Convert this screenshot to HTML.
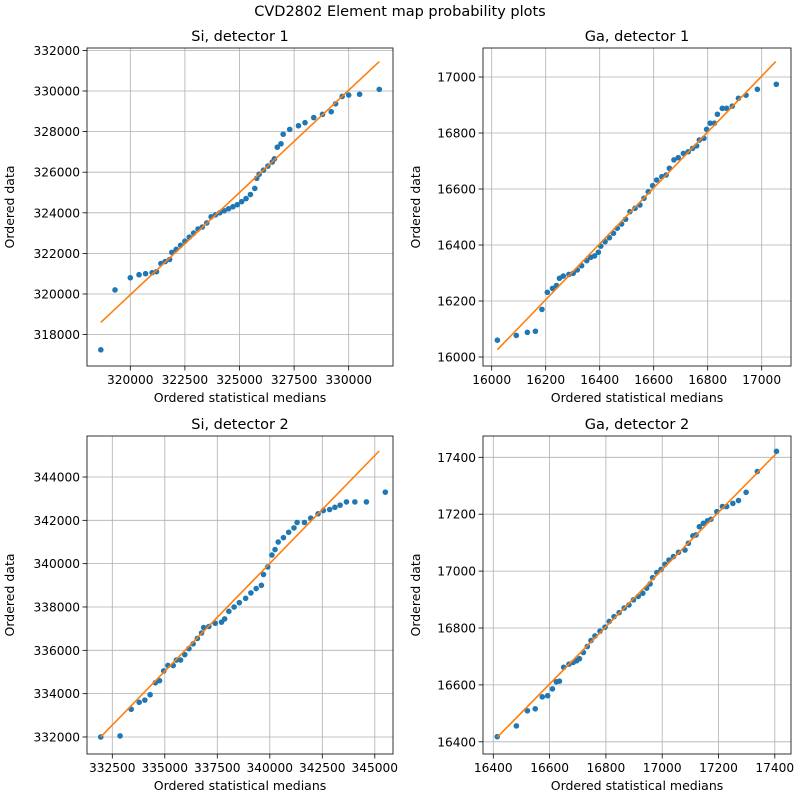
<!DOCTYPE html>
<html><head><meta charset="utf-8"><style>
body{margin:0;background:#fff}
svg{font-family:"DejaVu Sans","Liberation Sans",sans-serif}
</style></head><body>
<svg id="fig" width="800" height="800" viewBox="0 0 800 800">
<rect width="800" height="800" fill="#fff"/>
<text x="400" y="16" text-anchor="middle" font-size="14.5">CVD2802 Element map probability plots</text>
</svg>
<script>
// Si, detector 1
const si1X=[318650,319300,320000,320400,320700,321000,321200,321400,321600,321800,321900,322100,322300,322500,322700,322900,323100,323300,323500,323700,323900,324100,324300,324500,324700,324900,325100,325300,325500,325700,325790,325900,326100,326300,326500,326600,326730,326900,327000,327300,327700,328000,328400,328800,329200,329400,329700,330000,330500,331400];
const si1Y=[317250,320200,320800,320950,321000,321050,321100,321500,321600,321700,322050,322200,322400,322600,322800,323000,323200,323300,323500,323800,323900,324000,324100,324200,324300,324400,324550,324700,324900,325200,325700,325900,326100,326300,326500,326660,327230,327400,327870,328110,328290,328440,328690,328850,328980,329370,329730,329800,329840,330080];
const si1Line=[[318650,318600],[331400,331450]];
// Ga, detector 1
const ga1X=[16021,16091,16132,16162,16186,16206,16225,16240,16251,16265,16286,16302,16317,16333,16352,16367,16381,16395,16404,16420,16436,16451,16465,16481,16496,16512,16531,16549,16564,16580,16596,16611,16630,16646,16658,16675,16691,16710,16728,16744,16759,16769,16786,16796,16809,16825,16836,16854,16870,16891,16914,16942,16984,17054];
const ga1Y=[16060,16077,16088,16092,16170,16231,16245,16255,16281,16289,16295,16299,16311,16326,16344,16356,16361,16374,16396,16412,16426,16442,16460,16475,16492,16519,16531,16543,16567,16590,16612,16632,16644,16650,16674,16704,16712,16727,16733,16745,16754,16775,16781,16813,16835,16835,16867,16888,16888,16896,16924,16935,16956,16974];
const ga1Line=[[16021,16026],[17052,17055]];
// Si, detector 2
const si2X=[331950,332870,333400,333780,334050,334300,334550,334750,334950,335150,335400,335550,335750,335950,336150,336350,336550,336750,336850,337100,337400,337700,337850,338050,338300,338550,338850,339100,339350,339600,339700,339900,340100,340250,340400,340650,340900,341150,341300,341650,341950,342300,342550,342850,343100,343350,343650,344050,344600,345500];
const si2Y=[332000,332050,333280,333600,333700,333950,334500,334600,335050,335300,335300,335550,335550,335800,336080,336300,336550,336800,337050,337100,337250,337300,337450,337800,338000,338200,338400,338650,338850,339000,339500,339850,340400,340650,341000,341200,341450,341650,341900,341900,342100,342300,342450,342500,342600,342700,342850,342850,342850,343300];
const si2Line=[[331950,332000],[345210,345200]];
// Ga, detector 2
const ga2X=[16414,16482,16521,16549,16574,16593,16610,16624,16635,16650,16669,16684,16696,16706,16720,16734,16747,16761,16779,16797,16812,16829,16847,16865,16882,16898,16915,16931,16945,16957,16966,16981,16996,17010,17024,17040,17058,17081,17093,17109,17120,17132,17146,17161,17173,17194,17214,17229,17251,17271,17298,17338,17406];
const ga2Y=[16418,16456,16509,16516,16558,16562,16586,16611,16613,16662,16673,16679,16685,16692,16714,16735,16756,16772,16789,16803,16823,16840,16854,16870,16881,16899,16911,16922,16940,16955,16977,16995,17006,17024,17039,17051,17066,17074,17098,17124,17127,17156,17168,17177,17182,17209,17227,17227,17238,17248,17277,17350,17421];
const ga2Line=[[16414,16416],[17404,17412]];

const si1XTicks=[320000,322500,325000,327500,330000];
const si1YTicks=[318000,320000,322000,324000,326000,328000,330000,332000];
const ga1XTicks=[16000,16200,16400,16600,16800,17000];
const ga1YTicks=[16000,16200,16400,16600,16800,17000];
const si2XTicks=[332500,335000,337500,340000,342500,345000];
const si2YTicks=[332000,334000,336000,338000,340000,342000,344000];
const ga2XTicks=[16400,16600,16800,17000,17200,17400];
const ga2YTicks=[16400,16600,16800,17000,17200,17400];

const NS="http://www.w3.org/2000/svg";
const fig=document.getElementById('fig');
function mk(tag,attrs,parent){const e=document.createElementNS(NS,tag);for(const k in attrs)e.setAttribute(k,attrs[k]);(parent||fig).appendChild(e);return e;}

function panel(o){
  const g=mk('g',{});
  
  
  const sx=v=>o.xp0+(v-o.xv0)*o.xs;
  const sy=v=>o.yp0-(v-o.yv0)*o.ys;
  const L=o.box[0],T=o.box[1],R=o.box[2],B=o.box[3];
  const cl='clip'+o.name;
  const cp=mk('clipPath',{id:cl},g);mk('rect',{x:L,y:T,width:R-L,height:B-T},cp);
  o.xt.forEach(t=>{const x=sx(t);
    const gl=mk('line',{x1:x,x2:x,y1:T,y2:B,stroke:'#b0b0b0','stroke-width':0.8},g);
    
    
    mk('line',{x1:x,x2:x,y1:B,y2:B+4.5,stroke:'#000','stroke-width':0.8},g);
    const tx=mk('text',{x:x,y:B+18,'text-anchor':'middle','font-size':12.2},g);tx.textContent=t;
    
    
  });
  o.yt.forEach(t=>{const y=sy(t);
    const gl=mk('line',{x1:L,x2:R,y1:y,y2:y,stroke:'#b0b0b0','stroke-width':0.8},g);
    
    
    mk('line',{x1:L-4.5,x2:L,y1:y,y2:y,stroke:'#000','stroke-width':0.8},g);
    const tx=mk('text',{x:L-7,y:y+4.5,'text-anchor':'end','font-size':12.2},g);tx.textContent=t;
    
    
  });
  const pg=mk('g',{'clip-path':'url(#'+cl+')'},g);
  o.px.forEach((v,i)=>{
    const c=mk('circle',{cx:sx(v),cy:sy(o.py[i]),r:2.8,fill:'#1f77b4'},pg);
    
    
  });
  const ln=mk('line',{x1:sx(o.ln[0][0]),y1:sy(o.ln[0][1]),x2:sx(o.ln[1][0]),y2:sy(o.ln[1][1]),stroke:'#ff7f0e','stroke-width':1.6},pg);
  
  
  const fr=mk('rect',{x:L,y:T,width:R-L,height:B-T,fill:'none',stroke:'#000','stroke-width':0.8},g);
  
  
  const ti=mk('text',{x:(L+R)/2,y:T-7,'text-anchor':'middle','font-size':14.5},g);ti.textContent=o.title;
  
  
  const xl=mk('text',{x:(L+R)/2,y:B+36,'text-anchor':'middle','font-size':12.5},g);xl.textContent='Ordered statistical medians';
  
  
  const yx=o.ylx, yy=(T+B)/2;
  const yl=mk('text',{x:yx,y:yy,'text-anchor':'middle','font-size':12.5,transform:'rotate(-90 '+yx+' '+yy+')'},g);yl.textContent='Ordered data';
  
  
}
panel({name:'si-detector-1',title:'Si, detector 1',box:[87,48,393,366],xv0:320000,xp0:130.3,xs:54.6/2500,yv0:330000,yp0:91,ys:40.6/2000,xt:si1XTicks,yt:si1YTicks,px:si1X,py:si1Y,ln:si1Line,ylx:14});
panel({name:'ga-detector-1',title:'Ga, detector 1',box:[483,48,791,366],xv0:16000,xp0:491.7,xs:0.27,yv0:17000,yp0:77,ys:0.28,xt:ga1XTicks,yt:ga1YTicks,px:ga1X,py:ga1Y,ln:ga1Line,ylx:420});
panel({name:'si-detector-2',title:'Si, detector 2',box:[87,436,393,754],xv0:332500,xp0:112.3,xs:52.5/2500,yv0:344000,yp0:477,ys:43.33/2000,xt:si2XTicks,yt:si2YTicks,px:si2X,py:si2Y,ln:si2Line,ylx:14});
panel({name:'ga-detector-2',title:'Ga, detector 2',box:[483,436,791,754],xv0:16400,xp0:493.3,xs:0.2815,yv0:17400,yp0:457.3,ys:0.2845,xt:ga2XTicks,yt:ga2YTicks,px:ga2X,py:ga2Y,ln:ga2Line,ylx:420});
</script>
</body></html>
